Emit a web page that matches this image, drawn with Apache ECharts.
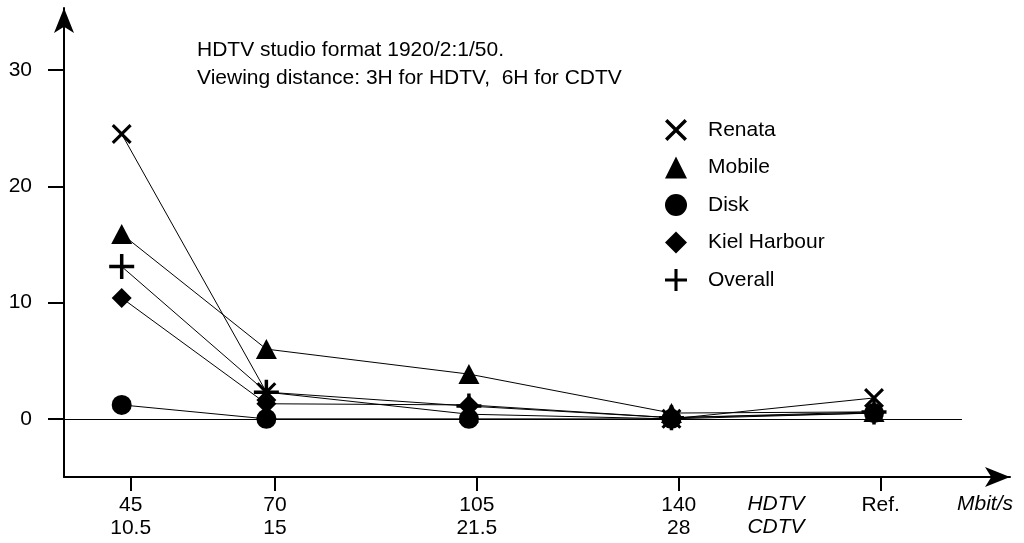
<!DOCTYPE html>
<html>
<head>
<meta charset="utf-8">
<script src="https://cdn.jsdelivr.net/npm/echarts@6/dist/echarts.min.js"></script>
<style>
html,body{margin:0;padding:0;background:#fff;}
#c{width:1024px;height:543px;}
</style>
</head>
<body>
<div id="c"></div>
<script>
// ---- data ----
const hdtvRates = [45, 70, 105, 140];
const cdtvRates = ['10.5', '15', '21.5', '28'];
const refLabel = 'Ref.';
const refPos = 175;                       // position used for the reference column
const xValues = [45, 70, 105, 140, 175];  // HDTV bit rates + reference column
const yTicks = [0, 10, 20, 30];

const seriesNames = ['Renata', 'Mobile', 'Disk', 'Kiel Harbour', 'Overall'];
const renata  = [24.5, 2.3, 0.4, 0.0, 1.8];
const mobile  = [15.9, 6.0, 3.85, 0.5, 0.6];
const disk    = [1.2, 0.0, 0.0, 0.0, 0.5];
const kiel    = [10.4, 1.3, 1.2, 0.1, 0.5];
const overall = [13.1, 2.3, 1.1, 0.1, 0.6];

const note = ['HDTV studio format 1920/2:1/50.', 'Viewing distance: 3H for HDTV,  6H for CDTV'];

// ---- styling ----
const FONT = '"Liberation Sans", Arial, Helvetica, sans-serif';
const FS = 21;
const xPath = 'path://M0,11L11,0L50,39L89,0L100,11L61,50L100,89L89,100L50,61L11,100L0,89L39,50Z';
const plusPath = 'path://M43,0H57V43H100V57H57V100H43V57H0V43H43Z';
const symbols = [xPath, 'triangle', 'circle', 'diamond', plusPath];
const symbolSizes = [20, [21, 20], 20, [20, 20], 25];
const values = [renata, mobile, disk, kiel, overall];

const labelMap = {};
hdtvRates.forEach((r, i) => { labelMap[r] = r + '\n' + cdtvRates[i]; });
labelMap[refPos] = refLabel + '\n ';

const chart = echarts.init(document.getElementById('c'), null, {renderer: 'canvas'});

const series = seriesNames.map((name, i) => ({
  name: name,
  type: 'line',
  xAxisIndex: 1,
  yAxisIndex: 0,
  data: xValues.map((x, j) => [x, values[i][j]]),
  symbol: symbols[i],
  symbolSize: symbolSizes[i],
  showAllSymbol: true,
  lineStyle: {color: '#000', width: 1},
  itemStyle: {color: '#000'},
  emphasis: {disabled: true},
  z: 3
}));

// zero reference line
series.push({
  type: 'line',
  xAxisIndex: 1,
  yAxisIndex: 0,
  data: [],
  silent: true,
  markLine: {
    silent: true,
    symbol: ['none', 'none'],
    label: {show: false},
    lineStyle: {color: '#000', width: 1, type: 'solid'},
    data: [[{coord: [35.03, 0]}, {coord: [190.2, 0]}]]
  },
  z: 1
});

chart.setOption({
  animation: false,
  backgroundColor: '#fff',
  grid: {left: 64, right: 14, top: 8, bottom: 66, containLabel: false},
  xAxis: [
    {
      type: 'value',
      min: 33.44,
      max: 197.42,
      position: 'bottom',
      axisLine: {show: true, onZero: false, lineStyle: {color: '#000', width: 2}, symbol: ['none', 'arrow'], symbolSize: [15, 25]},
      axisTick: {show: true, length: 14, lineStyle: {color: '#000', width: 2}, customValues: xValues},
      axisLabel: {
        show: true,
        customValues: xValues,
        margin: 17,
        color: '#000',
        fontFamily: FONT,
        fontSize: FS,
        lineHeight: 23,
        formatter: v => labelMap[v] !== undefined ? labelMap[v] : ''
      },
      splitLine: {show: false}
    },
    {
      type: 'value',
      min: 35.03,
      max: 198.5,
      show: false,
      axisLine: {onZero: false},
      splitLine: {show: false}
    }
  ],
  yAxis: {
    type: 'value',
    min: -5,
    max: 35.34,
    axisLine: {show: true, onZero: false, lineStyle: {color: '#000', width: 2}, symbol: ['none', 'arrow'], symbolSize: [15, 25]},
    axisTick: {show: true, length: 16, lineStyle: {color: '#000', width: 2}, customValues: yTicks},
    axisLabel: {show: true, customValues: yTicks, margin: 32, color: '#000', fontFamily: FONT, fontSize: FS},
    splitLine: {show: false}
  },
  legend: {
    show: true,
    orient: 'vertical',
    left: 660,
    top: 114,
    itemWidth: 22,
    itemHeight: 22,
    itemGap: 15.5,
    selectedMode: false,
    textStyle: {color: '#000', fontFamily: FONT, fontSize: FS, lineHeight: 22, padding: [0, 0, 0, 16]},
    data: seriesNames.map((n, i) => ({name: n, icon: symbols[i], itemStyle: {color: '#000'}}))
  },
  graphic: [
    {
      type: 'text',
      left: 197,
      top: 36,
      silent: true,
      style: {text: note.join('\n'), fill: '#000', font: FS + 'px ' + FONT, lineHeight: 28}
    },
    {
      type: 'text',
      x: 776,
      y: 493,
      silent: true,
      style: {text: 'HDTV\nCDTV', fill: '#000', font: 'italic ' + FS + 'px ' + FONT, lineHeight: 23, align: 'center', verticalAlign: 'top'}
    },
    {
      type: 'text',
      x: 985,
      y: 493,
      silent: true,
      style: {text: 'Mbit/s', fill: '#000', font: 'italic ' + FS + 'px ' + FONT, lineHeight: 23, align: 'center', verticalAlign: 'top'}
    }
  ],
  series: series
});
</script>
</body>
</html>
